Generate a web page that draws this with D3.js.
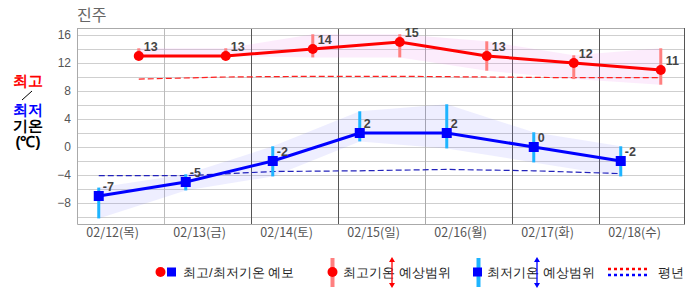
<!DOCTYPE html>
<html>
<head>
<meta charset="utf-8">
<script src="https://cdn.jsdelivr.net/npm/d3@7"></script>
<style>
body { margin: 0; background: #fff; }
svg text { font-family: "Liberation Sans", Arial, sans-serif; }
.kr { font-family: "Noto Sans CJK KR", "Noto Sans", sans-serif; }
</style>
</head>
<body>
<svg id="chart" width="686" height="295"></svg>
<script>
// days shown on the axis
var days = ['02/12(목)', '02/13(금)', '02/14(토)', '02/15(일)', '02/16(월)', '02/17(화)', '02/18(수)'];

// forecast max / min
var maxTemp = [13, 13, 14, 15, 13, 12, 11];
var minTemp = [-7, -5, -2, 2, 2, 0, -2];

// expected range (low, high)
var maxLow  = [13, 13, 12.8, 12.8, 10.9, 9.7, 8.9];
var maxHigh = [14.1, 14.1, 16.1, 16.1, 15.1, 13.1, 14.1];
var minLow  = [-10.2, -6.2, -4.2, 0.8, -0.2, -2.2, -4.2];
var minHigh = [-5.8, -3.9, 0.1, 5.1, 6.1, 2.1, 0.1];

// normals (평년)
var normMax = [9.7, 10.0, 10.1, 10.1, 10.0, 9.9, 9.9];
var normMin = [-4.1, -4.1, -3.5, -3.4, -3.2, -3.4, -3.8];

var yTicks = [-8, -4, 0, 4, 8, 12, 16];
var dayLineColours = ['#bbb', '#555', '#555', '#aaa', '#555', '#555'];

//-------------------------------------------------------------------------------

var svg = d3.select('#chart');
var pLeft = 77, pRight = 686, pTop = 28, pBottom = 224; // NB: 'top' is taken by window.top

var x = d3.scaleLinear().domain([0, 7]).range([pLeft, pRight]);
var y = d3.scaleLinear().domain([-11, 17]).range([pBottom, pTop]);

var xMax = i => x(i + 0.71); // time of day of the max
var xMin = i => x(i + 0.25); // time of day of the min

// horizontal grid every 2 degrees
svg.append('g')
    .selectAll('line')
    .data(d3.range(-10, 17, 2))
    .join('line')
    .attr('x1', pLeft).attr('x2', pRight - 1)
    .attr('y1', d => Math.round(y(d)) + 0.5).attr('y2', d => Math.round(y(d)) + 0.5)
    .attr('stroke', '#cfcfcf');

// day separators
svg.append('g')
    .selectAll('line')
    .data(d3.range(1, 7))
    .join('line')
    .attr('x1', d => Math.round(x(d)) + 0.5).attr('x2', d => Math.round(x(d)) + 0.5)
    .attr('y1', pTop).attr('y2', pBottom)
    .attr('stroke', (d, i) => dayLineColours[i]);

// frame
svg.append('path')
    .attr('d', `M${pLeft + 0.5},${pTop + 0.5} H${pRight - 1.5} M${pLeft + 0.5},${pTop} V${pBottom + 0.5} H${pRight - 1.5}`)
    .attr('fill', 'none').attr('stroke', '#aaa');
svg.append('line')
    .attr('x1', pRight - 1.5).attr('x2', pRight - 1.5).attr('y1', pTop).attr('y2', pBottom + 0.5)
    .attr('stroke', '#555');

// y axis labels
var yAxis = svg.append('g')
    .attr('transform', `translate(${pLeft - 6},0)`)
    .call(d3.axisLeft(y).tickValues(yTicks).tickSize(0).tickPadding(0));
yAxis.select('.domain').remove();
yAxis.selectAll('text').attr('font-size', 12).attr('fill', '#555')
    .attr('font-family', '"Liberation Sans", Arial, sans-serif');

// x labels
svg.append('g')
    .selectAll('text')
    .data(days)
    .join('text')
    .attr('class', 'kr')
    .attr('x', (d, i) => x(i + 0.41))
    .attr('y', 237)
    .attr('text-anchor', 'middle')
    .attr('font-size', 12.5)
    .attr('fill', '#555')
    .text(d => d);

// range bands
var idx = d3.range(days.length);
svg.append('path')
    .datum(idx)
    .attr('d', d3.area().x(xMax).y0(i => y(maxLow[i])).y1(i => y(maxHigh[i])))
    .attr('fill', '#ee82ee').attr('fill-opacity', 0.15);
svg.append('path')
    .datum(idx)
    .attr('d', d3.area().x(xMin).y0(i => y(minLow[i])).y1(i => y(minHigh[i])))
    .attr('fill', '#7070ff').attr('fill-opacity', 0.12);

// normals
svg.append('path')
    .datum(idx)
    .attr('d', d3.line().x(xMax).y(i => y(normMax[i])))
    .attr('fill', 'none').attr('stroke', '#ff2020').attr('stroke-width', 1.2)
    .attr('stroke-dasharray', '6,3');
svg.append('path')
    .datum(idx)
    .attr('d', d3.line().x(xMin).y(i => y(normMin[i])))
    .attr('fill', 'none').attr('stroke', '#2222bb').attr('stroke-width', 1.2)
    .attr('stroke-dasharray', '6,3');

// range bars
svg.append('g')
    .selectAll('line')
    .data(idx)
    .join('line')
    .attr('x1', xMax).attr('x2', xMax)
    .attr('y1', i => y(maxLow[i])).attr('y2', i => y(maxHigh[i]))
    .attr('stroke', '#ff8080').attr('stroke-width', 3);
svg.append('g')
    .selectAll('line')
    .data(idx)
    .join('line')
    .attr('x1', xMin).attr('x2', xMin)
    .attr('y1', i => y(minLow[i])).attr('y2', i => y(minHigh[i]))
    .attr('stroke', '#1eb4ff').attr('stroke-width', 3);

// forecast lines
svg.append('path')
    .datum(idx)
    .attr('d', d3.line().x(xMax).y(i => y(maxTemp[i])))
    .attr('fill', 'none').attr('stroke', '#ff0000').attr('stroke-width', 3);
svg.append('path')
    .datum(idx)
    .attr('d', d3.line().x(xMin).y(i => y(minTemp[i])))
    .attr('fill', 'none').attr('stroke', '#0000ff').attr('stroke-width', 3);

// markers
svg.append('g')
    .selectAll('circle')
    .data(idx)
    .join('circle')
    .attr('cx', xMax).attr('cy', i => y(maxTemp[i])).attr('r', 5)
    .attr('fill', '#ff0000');
svg.append('g')
    .selectAll('rect')
    .data(idx)
    .join('rect')
    .attr('x', i => xMin(i) - 5).attr('y', i => y(minTemp[i]) - 5)
    .attr('width', 10).attr('height', 10)
    .attr('fill', '#0000ff');

// value labels
svg.append('g')
    .selectAll('text')
    .data(idx)
    .join('text')
    .attr('x', i => xMax(i) + 5).attr('y', i => y(maxTemp[i]) - 5)
    .attr('font-size', 12.5).attr('font-weight', 'bold').attr('fill', '#444')
    .text(i => maxTemp[i]);
svg.append('g')
    .selectAll('text')
    .data(idx)
    .join('text')
    .attr('x', i => xMin(i) + 4).attr('y', i => y(minTemp[i]) - 5)
    .attr('font-size', 12.5).attr('font-weight', 'bold').attr('fill', '#444')
    .text(i => minTemp[i]);

// title
svg.append('text').attr('class', 'kr')
    .attr('x', 77).attr('y', 21).attr('font-size', 16).attr('fill', '#666')
    .text('진주');

// left caption
var cap = svg.append('g').attr('class', 'kr').attr('font-size', 15).attr('font-weight', 'bold')
    .attr('text-anchor', 'middle');
cap.append('text').attr('x', 28).attr('y', 86).attr('fill', '#ff0000').text('최고');
cap.append('line').attr('x1', 22).attr('y1', 100).attr('x2', 32).attr('y2', 91)
    .attr('stroke', '#000').attr('stroke-width', 1);
cap.append('text').attr('x', 28).attr('y', 115).attr('fill', '#0000ff').text('최저');
cap.append('text').attr('x', 28).attr('y', 131).attr('fill', '#000').text('기온');
cap.append('text').attr('x', 28).attr('y', 147).attr('fill', '#000').text('(℃)');

//-------------------------------------------------------------------------------
// legend

var lg = svg.append('g').attr('class', 'kr').attr('font-size', 13).attr('fill', '#222');
var ly = 272;

function arrow(g, ax, colour) {
    g.append('line').attr('x1', ax).attr('x2', ax).attr('y1', ly - 12).attr('y2', ly + 13)
        .attr('stroke', colour).attr('stroke-width', 1.3);
    g.append('path').attr('d', `M${ax - 3},${ly - 10} L${ax},${ly - 15} L${ax + 3},${ly - 10}Z`).attr('fill', colour);
    g.append('path').attr('d', `M${ax - 3},${ly + 11} L${ax},${ly + 16} L${ax + 3},${ly + 11}Z`).attr('fill', colour);
}

lg.append('circle').attr('cx', 160.5).attr('cy', ly).attr('r', 5).attr('fill', '#ff0000');
lg.append('rect').attr('x', 167).attr('y', ly - 4.5).attr('width', 9).attr('height', 9).attr('fill', '#0000ff');
lg.append('text').attr('x', 183).attr('y', ly + 5).text('최고/최저기온 예보');

lg.append('line').attr('x1', 332.5).attr('x2', 332.5).attr('y1', ly - 14).attr('y2', ly + 15)
    .attr('stroke', '#ff8080').attr('stroke-width', 4);
lg.append('circle').attr('cx', 332.5).attr('cy', ly).attr('r', 5).attr('fill', '#ff0000');
lg.append('text').attr('x', 343).attr('y', ly + 5).text('최고기온 예상범위');
arrow(lg, 392, '#ff0000');

lg.append('line').attr('x1', 478.5).attr('x2', 478.5).attr('y1', ly - 14).attr('y2', ly + 15)
    .attr('stroke', '#1eb4ff').attr('stroke-width', 4);
lg.append('rect').attr('x', 473).attr('y', ly - 4.5).attr('width', 9).attr('height', 9).attr('fill', '#0000ff');
lg.append('text').attr('x', 487).attr('y', ly + 5).text('최저기온 예상범위');
arrow(lg, 537, '#0000ff');

lg.append('line').attr('x1', 608).attr('x2', 648).attr('y1', 269).attr('y2', 269)
    .attr('stroke', '#ff0000').attr('stroke-width', 2.5).attr('stroke-dasharray', '3,3');
lg.append('line').attr('x1', 608).attr('x2', 648).attr('y1', 275).attr('y2', 275)
    .attr('stroke', '#0000ff').attr('stroke-width', 2.5).attr('stroke-dasharray', '3,3');
lg.append('text').attr('x', 658).attr('y', ly + 5).text('평년');
</script>
</body>
</html>
